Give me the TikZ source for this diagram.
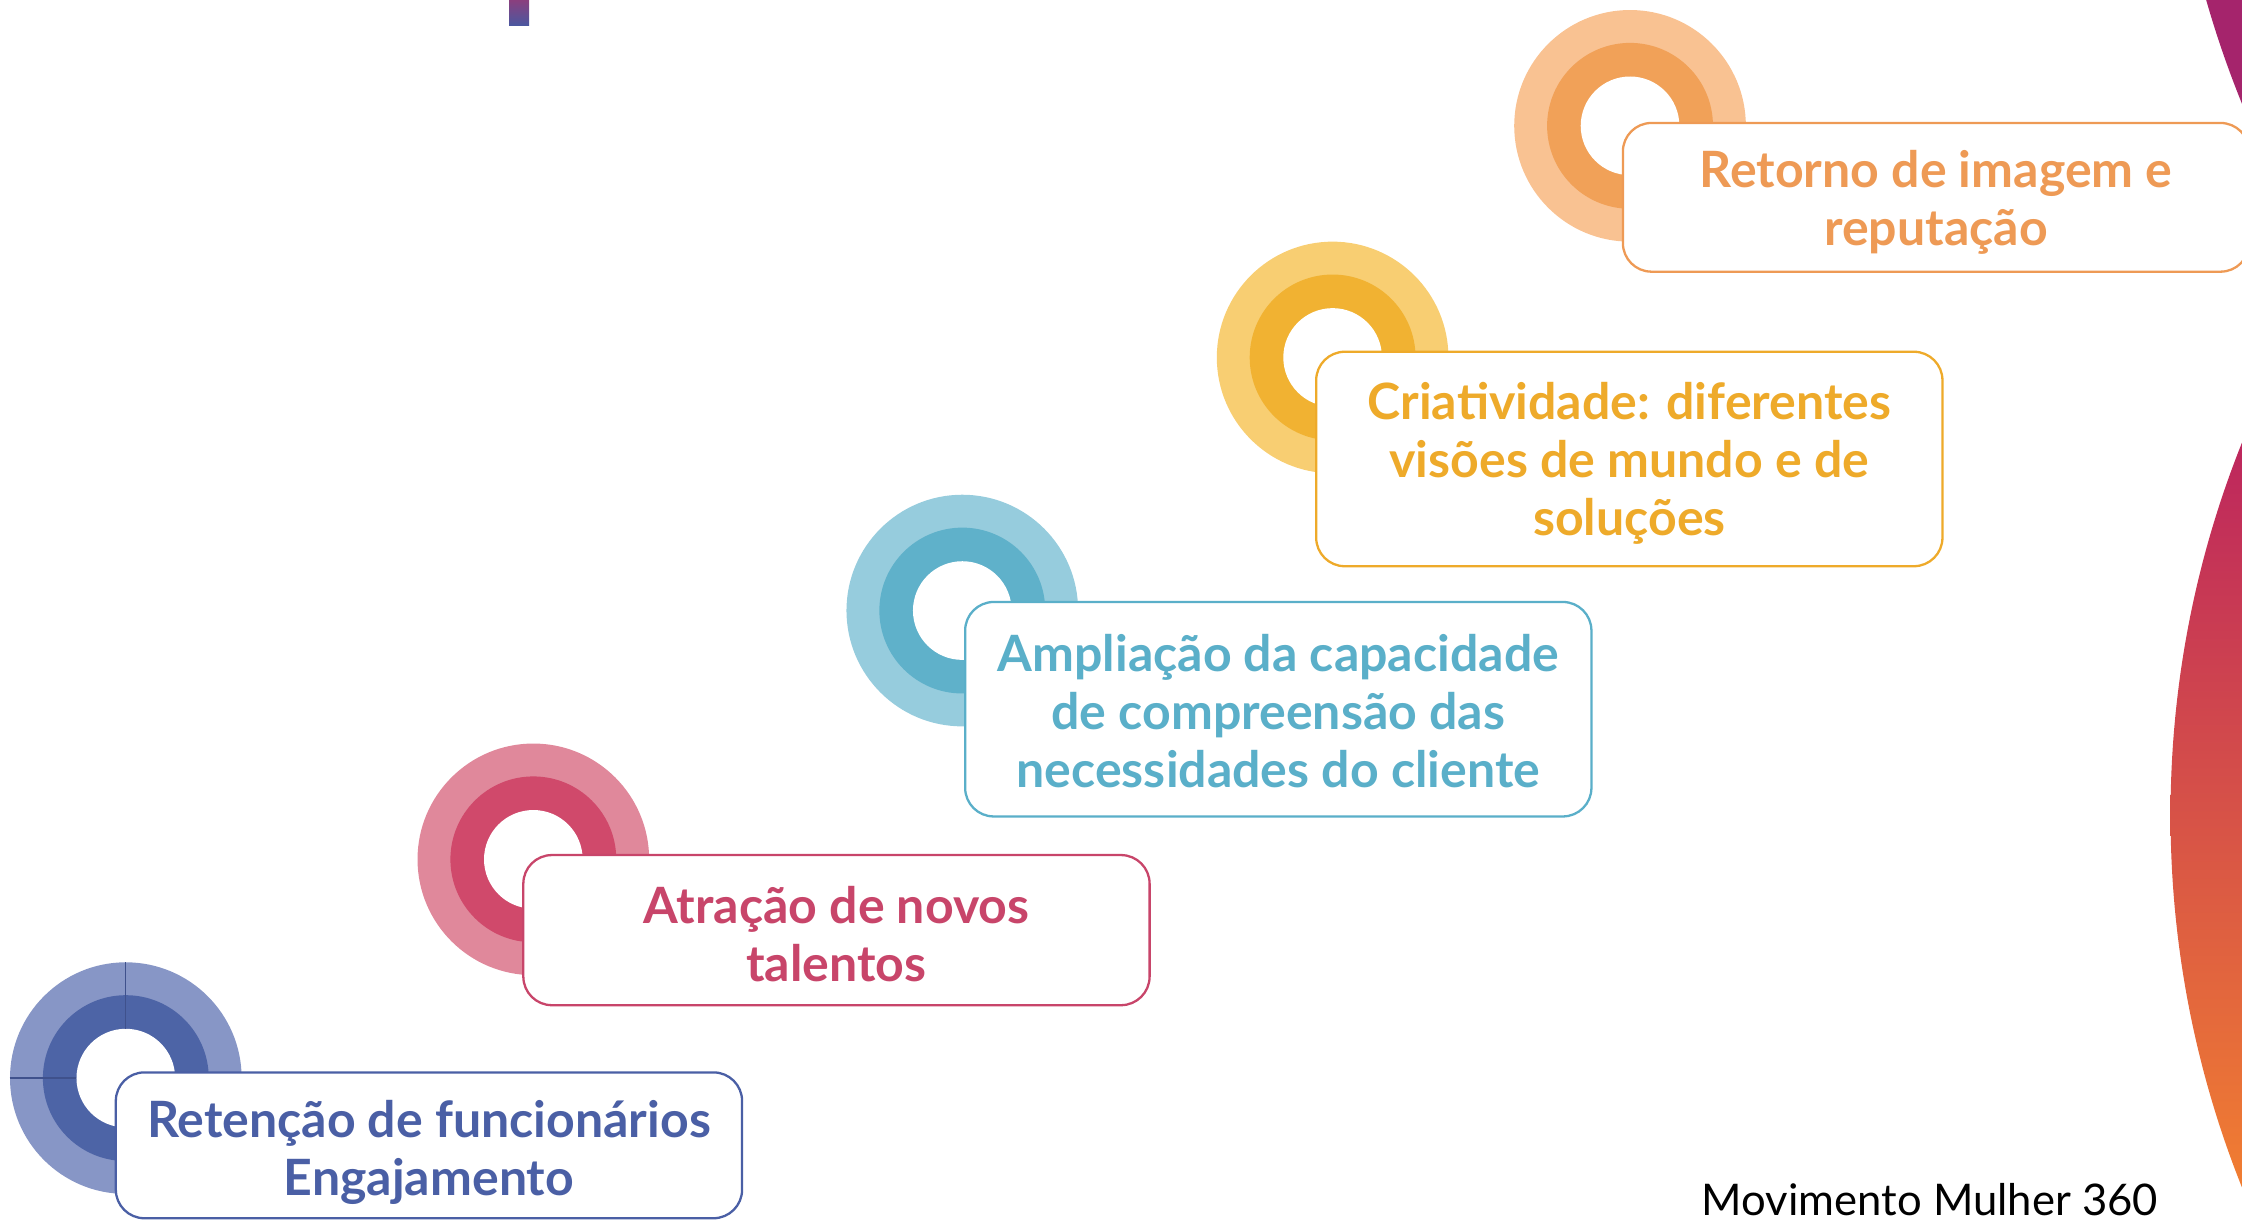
\documentclass[tikz,border=0pt]{standalone}
\usepackage{fontspec}
\setmainfont{Lato}
\definecolor{bluelt}{HTML}{8796C6}
\definecolor{bluedk}{HTML}{4D64A6}
\definecolor{bluetx}{HTML}{4A5FA5}
\definecolor{pinklt}{HTML}{E0889B}
\definecolor{pinkdk}{HTML}{D0496B}
\definecolor{pinktx}{HTML}{C8456A}
\definecolor{teallt}{HTML}{96CCDD}
\definecolor{tealdk}{HTML}{5FB1CA}
\definecolor{tealtx}{HTML}{5AAFC9}
\definecolor{yellt}{HTML}{F8CE72}
\definecolor{yeldk}{HTML}{F1B232}
\definecolor{yeltx}{HTML}{EEAA2A}
\definecolor{orglt}{HTML}{F9C292}
\definecolor{orgdk}{HTML}{F1A158}
\definecolor{orgtx}{HTML}{EE9A55}
\definecolor{magtop}{HTML}{A5246C}
\definecolor{shtop}{HTML}{BC255E}
\definecolor{shmid}{HTML}{E24A55}
\definecolor{shbot}{HTML}{F28030}
\definecolor{barTop}{HTML}{8A3F7E}
\definecolor{barBot}{HTML}{4A58A0}
\begin{document}
\begin{tikzpicture}[x=1pt,y=-1pt,
  disc/.style={circle, inner sep=0pt, draw=none, fill=#1},
  outerdisc/.style={disc=#1, minimum size=162pt},
  middisc/.style={disc=#1, minimum size=116pt},
  holedisc/.style={disc=white, minimum size=69pt},
  card/.style={draw=#1, line width=1.6pt, fill=white, rounded corners=20pt,
    minimum width=438pt, inner sep=0pt},
  lbl/.style={align=center, text=#1, inner sep=0pt,
    font=\bfseries\fontsize{35}{40.5}\selectfont},
  footer/.style={font=\fontsize{30.5}{36}\selectfont, text=black, inner sep=0pt}
]
\useasboundingbox (0,0) rectangle (1568,854);
\clip (0,0) rectangle (1568,854);

% decorative background shapes
\shade[top color=barTop, bottom color=barBot] (356,0) rectangle (370,18);
\begin{scope}
  \clip (2240,-200) circle[radius=725];
  \fill[magtop] (1500,-10) rectangle (1580,120);
\end{scope}
\begin{scope}
  \clip (2219,570) circle[radius=701];
  \shade[top color=shtop, middle color=shmid, bottom color=shbot] (1500,300) rectangle (1580,845);
\end{scope}

% rings
\node[outerdisc=bluelt] (r1) at (88,754) {};
\node[middisc=bluedk] (m1) at (88,754) {};
\node[holedisc] (h1) at (88,754) {};
\draw[bluetx!85!black, line width=0.9pt] (r1.north) -- (h1.north);
\draw[bluetx!85!black, line width=0.9pt] (r1.west) -- (h1.west);

\node[outerdisc=pinklt] (r2) at (373,601) {};
\node[middisc=pinkdk] (m2) at (373,601) {};
\node[holedisc] (h2) at (373,601) {};

\node[outerdisc=teallt] (r3) at (673,427) {};
\node[middisc=tealdk] (m3) at (673,427) {};
\node[holedisc] (h3) at (673,427) {};

\node[outerdisc=yellt] (r4) at (932,250) {};
\node[middisc=yeldk] (m4) at (932,250) {};
\node[holedisc] (h4) at (932,250) {};

\node[outerdisc=orglt] (r5) at (1140,88) {};
\node[middisc=orgdk] (m5) at (1140,88) {};
\node[holedisc] (h5) at (1140,88) {};

% cards
\node[card=bluetx, minimum height=102pt] (c1) at (300,801) {};
\node[lbl=bluetx] (t1) at ([yshift=-5pt]c1.center)
  {Retenção de funcionários\\Engajamento};
\node[card=pinktx, minimum height=105pt] (c2) at (585,650.5) {};
\node[lbl=pinktx] (t2) at ([yshift=-2.5pt]c2.center)
  {Atração de novos\\talentos};
\node[card=tealtx, minimum height=150pt] (c3) at (894,496) {};
\node[lbl=tealtx] (t3) at ([yshift=-1.5pt]c3.center)
  {Ampliação da capacidade\\de compreensão das\\necessidades do cliente};
\node[card=yeltx, minimum height=150pt] (c4) at (1139.5,321) {};
\node[lbl=yeltx] (t4) at ([yshift=-3pt]c4.center)
  {Criatividade: diferentes\\visões de mundo e de\\soluções};
\node[card=orgtx, minimum height=104pt] (c5) at (1354,138) {};
\node[lbl=orgtx] (t5) at ([yshift=-3.5pt]c5.center)
  {Retorno de imagem e\\reputação};

% footer
\node[footer, anchor=base west] (ft) at (1190,850) {Movimento Mulher 360};
\end{tikzpicture}
\end{document}
